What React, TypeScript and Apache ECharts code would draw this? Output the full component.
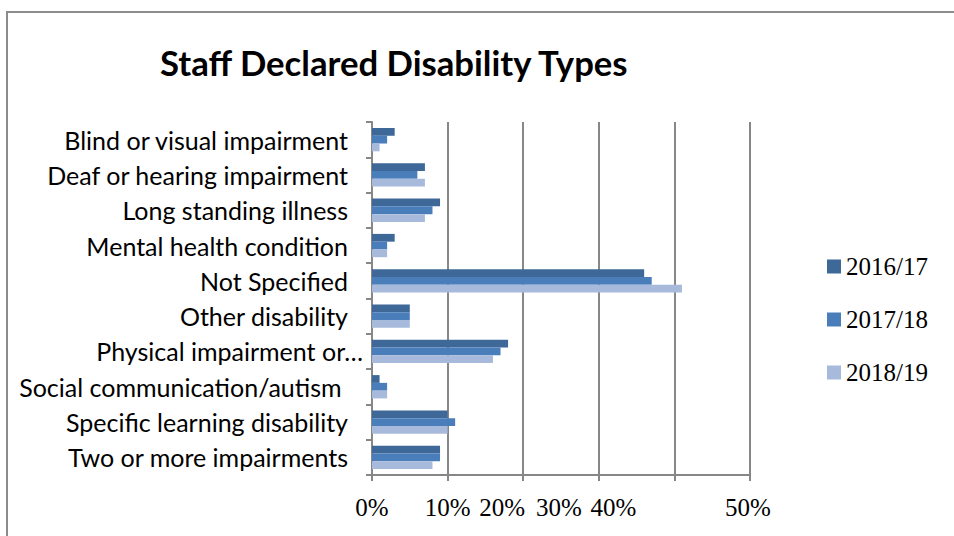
import React, { useEffect, useRef } from "react";
import * as echarts from "echarts";

// Disability categories, top to bottom
const categories = [
  "Blind or visual impairment",
  "Deaf or hearing impairment",
  "Long standing illness",
  "Mental health condition",
  "Not Specified",
  "Other disability",
  "Physical impairment or…",
  "Social communication/autism ",
  "Specific learning disability",
  "Two or more impairments",
];

// Share of staff (%) per academic year
const years = ["2016/17", "2017/18", "2018/19"];
const values2016 = [3, 7, 9, 3, 36, 5, 18, 1, 10, 9];
const values2017 = [2, 6, 8, 2, 37, 5, 17, 2, 11, 9];
const values2018 = [1, 7, 7, 2, 41, 5, 16, 2, 10, 8];

const seriesColors = ["#3E6898", "#4A7EBB", "#A8BADB"];

// Horizontal nudge (px, negative = left) applied to each x tick label
const tickLabelShift: Record<number, number> = { 0: 0, 10: 0, 20: -21, 30: -40, 40: -61, 50: -2 };

const GRID_GRAY = "#878787";
const SERIF = "'Liberation Serif', 'Times New Roman', serif";
const SANS = "Lato, 'Open Sans', sans-serif";

export default function App() {
  const ref = useRef<HTMLDivElement>(null);

  useEffect(() => {
    if (!ref.current) return;
    const chart = echarts.init(ref.current, undefined, { renderer: "svg" });

    const xRich: Record<string, any> = {};
    Object.keys(tickLabelShift).forEach((k) => {
      const s = tickLabelShift[Number(k)];
      xRich["t" + k] = {
        fontFamily: SERIF,
        fontSize: 25,
        color: "#000",
        padding: [0, s < 0 ? -2 * s : 0, 0, s > 0 ? 2 * s : 0],
      };
    });

    const catStyle = { fontFamily: SANS, fontSize: 25, color: "#000" };

    const series = [values2016, values2017, values2018].map((vals, i) => ({
      name: years[i],
      type: "bar",
      data: vals,
      barGap: "0%",
      barCategoryGap: "34%",
      itemStyle: { color: seriesColors[i] },
    }));

    chart.setOption({
      animation: false,
      backgroundColor: "#fff",
      title: {
        text: "Staff Declared Disability Types",
        left: 155,
        top: 40,
        textStyle: {
          fontFamily: SANS,
          fontWeight: "bold",
          fontSize: 34.7,
          color: "#000",
        },
      },
      legend: {
        orient: "vertical",
        left: 822,
        top: 249,
        itemWidth: 14,
        itemHeight: 14,
        itemGap: 28,
        icon: "rect",
        textStyle: { fontFamily: SERIF, fontSize: 25, color: "#000", lineHeight: 25 },
        data: years,
      },
      grid: { left: 372, top: 122, right: 204, bottom: 61, containLabel: false },
      xAxis: {
        type: "value",
        min: 0,
        max: 50,
        interval: 10,
        axisLine: { show: true, lineStyle: { color: GRID_GRAY, width: 2 } },
        axisTick: { show: true, length: 6, lineStyle: { color: GRID_GRAY, width: 2 } },
        splitLine: { show: true, lineStyle: { color: GRID_GRAY, width: 2 } },
        axisLabel: {
          margin: 20,
          formatter: (v: number) => `{t${v}|${v}%}`,
          rich: xRich,
        },
      },
      yAxis: {
        type: "category",
        data: categories,
        inverse: true,
        axisLine: { show: true, lineStyle: { color: GRID_GRAY, width: 2 } },
        axisTick: { show: true, length: 6, lineStyle: { color: GRID_GRAY, width: 2 } },
        axisLabel: {
          margin: 9,
          formatter: (v: string) => (v.endsWith("…") ? `{cut|${v}}` : `{n|${v}}`),
          rich: {
            n: { ...catStyle, padding: [0, 15, 0, 0] },
            cut: { ...catStyle },
          },
        },
      },
      graphic: [
        {
          type: "rect",
          shape: { x: 7, y: 12, width: 980, height: 560 },
          style: { fill: "none", stroke: "#8c8c8c", lineWidth: 2 },
          silent: true,
        },
      ],
      series,
    });

    return () => chart.dispose();
  }, []);

  return (
    <div
      ref={ref}
      style={{ position: "absolute", left: 0, top: 0, width: 954, height: 536 }}
    />
  );
}
